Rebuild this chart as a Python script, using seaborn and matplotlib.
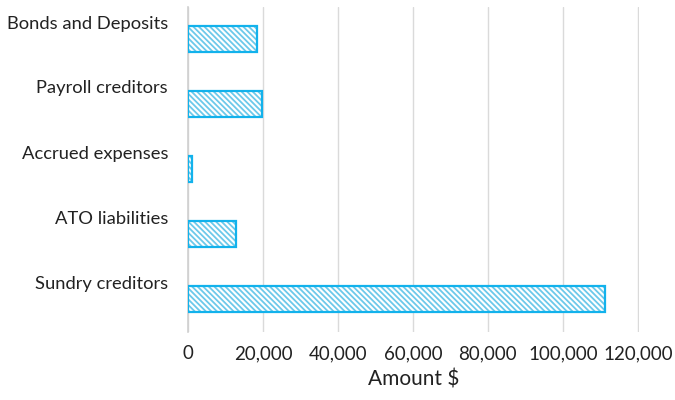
import matplotlib
matplotlib.use("Agg")
import matplotlib.pyplot as plt
import matplotlib.transforms as mtransforms
import seaborn as sns
import pandas as pd

categories = ["Bonds and Deposits", "Payroll creditors", "Accrued expenses",
              "ATO liabilities", "Sundry creditors"]
amounts = [18400, 19800, 1200, 12800, 111200]
x_ticks = [0, 20000, 40000, 60000, 80000, 100000, 120000]
x_tick_labels = ["0", "20,000", "40,000", "60,000", "80,000", "100,000", "120,000"]

df = pd.DataFrame({"Category": categories, "Amount": amounts})

sns.set_theme(style="white")
plt.rcParams["font.family"] = ["Lato", "DejaVu Sans"]
plt.rcParams["hatch.linewidth"] = 1.3

fig = plt.figure(figsize=(6.75, 4.0), dpi=100)
ax = fig.add_axes([188 / 675, 1 - 331.5 / 400, 451 / 675, 325 / 400])

edge = "#12B2EC"
hatch_col = "#6CC9EA"

# hatched fill layer
sns.barplot(data=df, x="Amount", y="Category", orient="h", order=categories,
            width=0.4, color="white", edgecolor=hatch_col, linewidth=0,
            hatch="\\\\\\\\\\\\", ax=ax, zorder=2)
# crisp outline layer
sns.barplot(data=df, x="Amount", y="Category", orient="h", order=categories,
            width=0.4, fill=False, edgecolor=edge, linewidth=1.6,
            ax=ax, zorder=3)

ax.set_xlim(0, 120300)
ax.set_ylim(4.5, -0.5)
ax.set_xticks(x_ticks)
ax.set_xticklabels(x_tick_labels)
ax.xaxis.grid(True, color="#DADADA", linewidth=1.0, zorder=0)
ax.yaxis.grid(False)
ax.set_axisbelow(True)

for s in ["top", "right", "bottom"]:
    ax.spines[s].set_visible(False)
ax.spines["left"].set_color("#D0D0D0")
ax.spines["left"].set_linewidth(1.2)

ax.tick_params(axis="both", length=0, colors="#222222")
ax.tick_params(axis="x", pad=10, labelsize=13.5)
ax.tick_params(axis="y", pad=14.4, labelsize=13.2)
ax.set_ylabel("")
ax.set_xlabel("Amount $", fontsize=15, color="#222222", labelpad=5)

# category labels sit above their bars
offset = mtransforms.ScaledTranslation(0, 17 / 100, fig.dpi_scale_trans)
for lbl in ax.get_yticklabels():
    lbl.set_transform(lbl.get_transform() + offset)

fig.savefig("out.png", dpi=100, facecolor="white")
